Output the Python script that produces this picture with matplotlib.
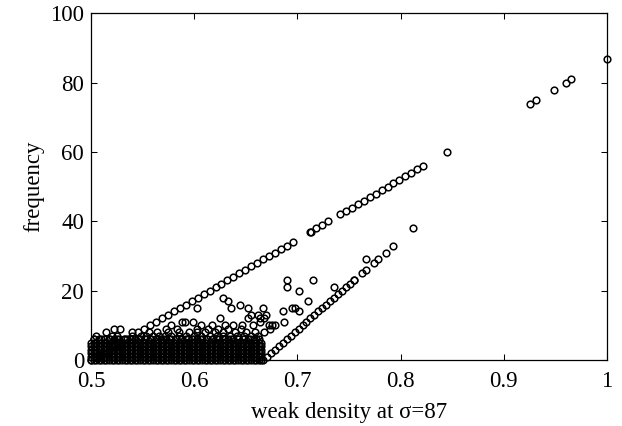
import matplotlib
matplotlib.use('Agg')
import matplotlib.pyplot as plt
import numpy as np

plt.rcParams['font.family'] = ['Liberation Serif', 'DejaVu Serif']

# upper diagonal (frequency vs weak density)
up_f = [0, 1, 2, 3, 4, 5, 6, 7, 8, 9, 10, 11, 12, 13, 14, 15, 16, 17, 18, 19,
        20, 21, 22, 23, 24, 25, 26, 27, 28, 29, 30, 31, 32, 33, 34,
        37, 37, 38, 39, 40,
        42, 43, 44, 45, 46, 47, 48, 49, 50, 51, 52, 53, 54, 55, 56,
        60, 74, 75, 78, 80, 81, 87]
up_x = [0.5000, 0.5057, 0.5115, 0.5172, 0.5230, 0.5287, 0.5345, 0.5402, 0.5460, 0.5517,
        0.5575, 0.5632, 0.5690, 0.5747, 0.5805, 0.5862, 0.5920, 0.5977, 0.6034, 0.6092,
        0.6149, 0.6207, 0.6264, 0.6322, 0.6379, 0.6437, 0.6494, 0.6552, 0.6609, 0.6667,
        0.6724, 0.6782, 0.6839, 0.6897, 0.6954,
        0.7126, 0.7130, 0.7184, 0.7241, 0.7299,
        0.7414, 0.7471, 0.7529, 0.7586, 0.7644, 0.7701, 0.7759, 0.7816, 0.7874, 0.7931,
        0.7989, 0.8046, 0.8103, 0.8161, 0.8218,
        0.8448, 0.9253, 0.9310, 0.9483, 0.9598, 0.9655, 1.0000]

# lower diagonal
low_f = [0, 1, 2, 3, 4, 5, 6, 7, 8, 9, 10, 11, 12, 13, 14, 15, 16, 17, 18, 19,
         20, 21, 22, 23, 23, 25, 26, 28, 29, 31, 33, 38]
low_x = [0.6667, 0.6705, 0.6743, 0.6782, 0.6820, 0.6858, 0.6897, 0.6935, 0.6973, 0.7011,
         0.7050, 0.7088, 0.7126, 0.7165, 0.7203, 0.7241, 0.7280, 0.7318, 0.7356, 0.7395,
         0.7433, 0.7471, 0.7510, 0.7548, 0.7552, 0.7625, 0.7663, 0.7739, 0.7778, 0.7854,
         0.7931, 0.8123]

# dense block near the bottom left
row_a = [0.500, 0.505, 0.510, 0.515, 0.520, 0.525, 0.530, 0.535, 0.540, 0.545, 0.550,
         0.555, 0.560, 0.565, 0.570, 0.575, 0.580, 0.585, 0.590, 0.595, 0.600, 0.605,
         0.610, 0.615, 0.620, 0.625, 0.630, 0.635, 0.640, 0.645, 0.650, 0.655, 0.660, 0.665]
row_b = [0.5025, 0.5075, 0.5125, 0.5175, 0.5225, 0.5275, 0.5325, 0.5375, 0.5425, 0.5475,
         0.5525, 0.5575, 0.5625, 0.5675, 0.5725, 0.5775, 0.5825, 0.5875, 0.5925, 0.5975,
         0.6025, 0.6075, 0.6125, 0.6175, 0.6225, 0.6275, 0.6325, 0.6375, 0.6425, 0.6475,
         0.6525, 0.6575, 0.6625]
row6 = [0.503, 0.510, 0.518, 0.525, 0.532, 0.540, 0.546, 0.552, 0.558, 0.564, 0.570,
        0.576, 0.582, 0.588, 0.594, 0.600, 0.606, 0.612, 0.618, 0.624, 0.630, 0.636,
        0.642, 0.648, 0.654, 0.660]
row7 = [0.505, 0.520, 0.525, 0.548, 0.553, 0.560, 0.566, 0.572, 0.578, 0.585, 0.592,
        0.600, 0.607, 0.615, 0.622, 0.628, 0.635, 0.641, 0.648, 0.655, 0.662]
row8 = [0.515, 0.540, 0.556, 0.564, 0.575, 0.585, 0.595, 0.603, 0.610, 0.620, 0.628,
        0.640, 0.650, 0.659, 0.668]
row9 = [0.522, 0.528, 0.573, 0.583, 0.603, 0.613, 0.623, 0.633, 0.645, 0.673]
row10 = [0.578, 0.607, 0.617, 0.630, 0.638, 0.646, 0.657, 0.672, 0.675, 0.678]

# scattered points in between
sp_x = [0.588, 0.591, 0.599, 0.664, 0.687,
        0.625, 0.652, 0.664, 0.668,
        0.662, 0.670, 0.655,
        0.6865, 0.7018,
        0.6024, 0.636, 0.652, 0.667, 0.6945, 0.698,
        0.6444, 0.633, 0.7106, 0.628, 0.7016,
        0.690, 0.7358, 0.690, 0.7154, 0.7665]
sp_f = [11, 11, 11, 11, 11,
        12, 12, 12, 12,
        13, 13, 13,
        14, 14,
        15, 15, 15, 15, 15, 15,
        16, 17, 17, 18, 20,
        21, 21, 23, 23, 29]

xx = list(up_x) + list(low_x) + list(sp_x)
ff = list(up_f) + list(low_f) + list(sp_f)
rows = [(row_a, 0), (row_b, 0), (row_a, 1), (row_b, 1), (row_a, 2), (row_b, 2),
        (row_a, 3), (row_b, 3), (row_a, 4), (row_b, 4), (row_a, 5), (row_b, 5),
        (row_b, 6), (row6, 6), (row7, 7), (row8, 8), (row9, 9), (row10, 10)]
for r, f in rows:
    xx += r
    ff += [f] * len(r)

fig = plt.figure(figsize=(6.22, 4.26), dpi=100)
ax = fig.add_axes([0.1463, 0.155, 0.8296, 0.8134])
ax.plot(xx, ff, 'o', mfc='none', mec='k', ms=4.8, mew=1.1, clip_on=False)

ax.set_xlim(0.5, 1)
ax.set_ylim(0, 100)
ax.set_xticks([0.5, 0.6, 0.7, 0.8, 0.9, 1.0])
ax.set_xticklabels(['0.5', '0.6', '0.7', '0.8', '0.9', '1'])
ax.set_yticks([0, 20, 40, 60, 80, 100])
ax.tick_params(direction='in', top=True, right=True, length=4, width=0.75,
               labelsize=16.5)
ax.tick_params(axis='x', pad=8)
ax.tick_params(axis='y', pad=5)
for s in ax.spines.values():
    s.set_linewidth(0.9)

ax.set_xlabel('weak density at σ=87', fontsize=16.5, labelpad=7)
ax.set_ylabel('frequency', fontsize=16.5, labelpad=4)

plt.savefig('out.png', dpi=100)
